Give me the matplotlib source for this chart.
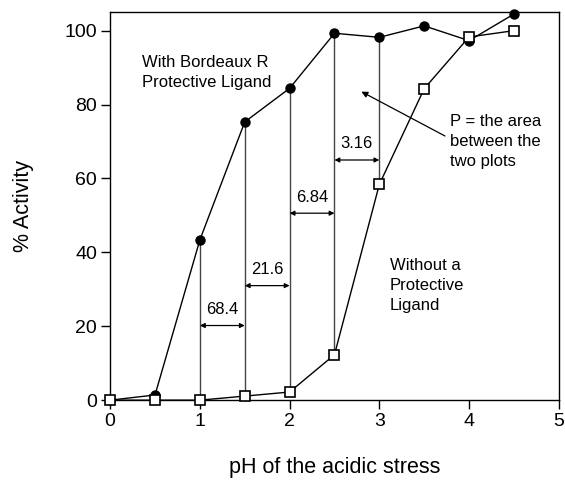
import matplotlib
matplotlib.use("Agg")
import matplotlib.pyplot as plt

plt.rcParams['font.family'] = ['Liberation Sans', 'DejaVu Sans']

# data
ph = [0, 0.5, 1, 1.5, 2, 2.5, 3, 3.5, 4, 4.5]
with_ligand = [0, 1.4, 43.4, 75.3, 84.4, 99.3, 98.2, 101.3, 97.3, 104.5]
without_ligand = [0, 0, 0, 1.1, 2.2, 12.3, 58.4, 84.3, 98.3, 100]

# strips between the two curves
strip_x = [1, 1.5, 2, 2.5, 3]
strip_labels = ['68.4', '21.6', '6.84', '3.16']
arrow_y = [20.2, 31.0, 50.6, 65.0]

fig = plt.figure(figsize=(5.65, 4.88), dpi=100)
ax = fig.add_axes([0.195, 0.180, 0.794, 0.795])

# vertical lines from the lower to the upper curve
for x in strip_x:
    i = ph.index(x)
    ax.vlines(x, without_ligand[i], with_ligand[i], color='#444444', lw=1.0, zorder=1)

for k in range(len(strip_labels)):
    x0, x1 = strip_x[k], strip_x[k + 1]
    ax.annotate('', xy=(x0, arrow_y[k]), xytext=(x1, arrow_y[k]),
                arrowprops=dict(arrowstyle='<|-|>', color='black', lw=0.9,
                                mutation_scale=7, shrinkA=0, shrinkB=0))
    ax.text((x0 + x1) / 2, arrow_y[k] + 2.3, strip_labels[k], ha='center',
            va='bottom', fontsize=12)

ax.plot(ph, with_ligand, '-o', color='black', lw=1.0, ms=6.5,
        mfc='black', clip_on=False, zorder=3)
ax.plot(ph, without_ligand, '-s', color='black', lw=1.0, ms=6.5,
        mfc='white', mew=1.2, clip_on=False, zorder=4)

ax.text(0.35, 88.7, 'With Bordeaux R\nProtective Ligand', fontsize=12,
        va='center', ha='left', linespacing=1.4)
ax.text(3.12, 31, 'Without a\nProtective\nLigand', fontsize=12,
        va='center', ha='left', linespacing=1.4)
ax.annotate('P = the area\nbetween the\ntwo plots', xy=(2.80, 83.5),
            xytext=(3.79, 70), fontsize=12, va='center', ha='left',
            linespacing=1.4,
            arrowprops=dict(arrowstyle='-|>', color='black', lw=0.9,
                            mutation_scale=9, shrinkA=2, shrinkB=0,
                            relpos=(0, 0.55)))

ax.set_xlim(0, 5)
ax.set_ylim(0, 105)
ax.set_xticks([0, 1, 2, 3, 4, 5])
ax.set_yticks([0, 20, 40, 60, 80, 100])
ax.tick_params(direction='out', length=6.5, width=1, labelsize=14, pad=3)
for s in ax.spines.values():
    s.set_linewidth(1.0)

ax.set_xlabel('pH of the acidic stress', fontsize=15.5, labelpad=19)
ax.set_ylabel('% Activity', fontsize=15.5, labelpad=22)

fig.savefig('out.png', dpi=100)
